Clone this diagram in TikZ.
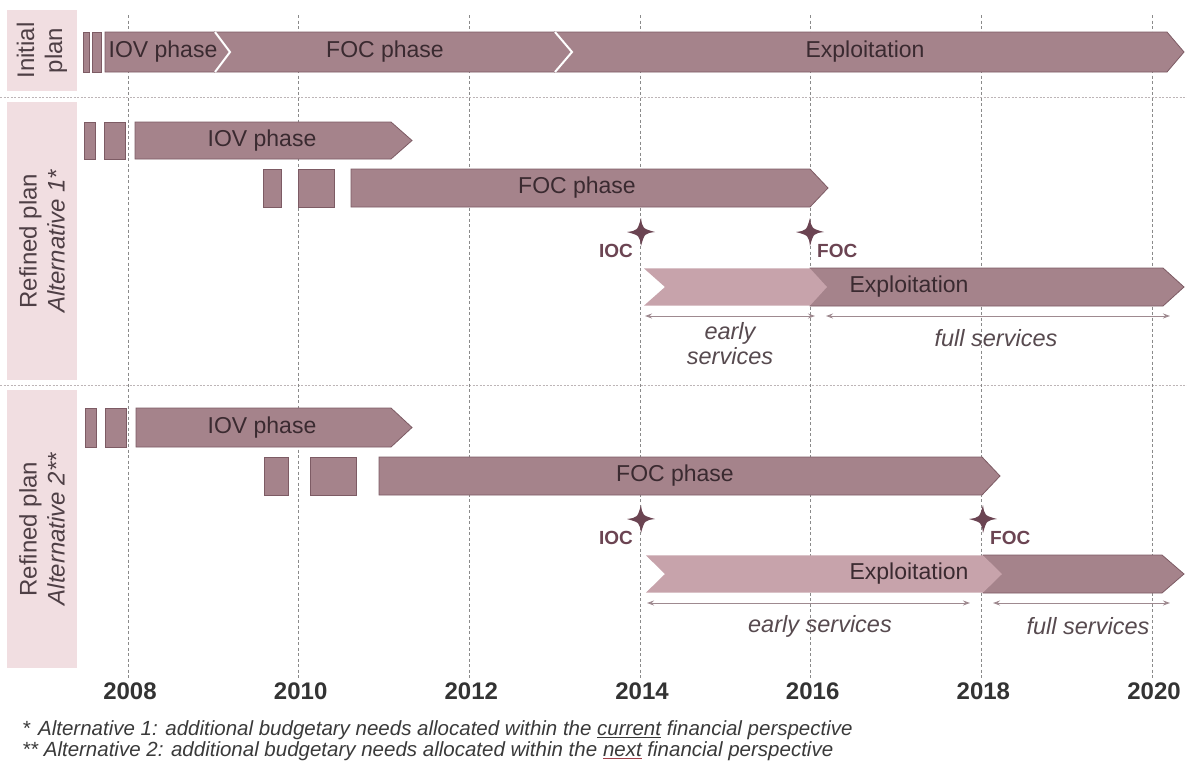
\documentclass[tikz,border=0pt]{standalone}
\usepackage{fontspec}
\setmainfont{Liberation Sans}
\usetikzlibrary{arrows.meta}
\definecolor{barfill}{HTML}{A5838B}
\definecolor{barline}{HTML}{7D5B64}
\definecolor{lightbar}{HTML}{C7A3AB}
\definecolor{labelbox}{HTML}{F1DEE1}
\definecolor{starcol}{HTML}{6B4452}
\definecolor{bartext}{HTML}{3A2A30}
\definecolor{arrcol}{HTML}{9F8A90}
\definecolor{gridcol}{HTML}{8A8A8A}
\definecolor{sepcol}{HTML}{BDB5B7}
\definecolor{foottext}{HTML}{3A3A3A}
\definecolor{nextcol}{HTML}{A0404A}
\newcommand\chevbar[7]{\path[#1] (#2,#4) -- ({#3-#6},#4) -- (#3,{(#4+#5)/2}) -- ({#3-#6},#5) -- (#2,#5) -- ({#2+#7},{(#4+#5)/2}) -- cycle;}
\newcommand\mystar[1]{\fill[starcol] (#1) ++(0,-14) .. controls ++(1.5,10.5) .. ++(14,14) .. controls ++(-10.5,1.5) .. ++(-14,14) .. controls ++(-1.5,-10.5) .. ++(-14,-14) .. controls ++(10.5,-1.5) .. ++(14,-14) -- cycle;}
\begin{document}
\begin{tikzpicture}[x=1pt,y=-1pt,
  barstyle/.style={fill=barfill,draw=barline,line width=0.8pt},
  lightstyle/.style={fill=lightbar,draw=none},
  bartxt/.style={text=bartext,font=\fontsize{23}{27}\selectfont,inner sep=0pt},
  labeltxt/.style={text=bartext!90,font=\fontsize{24}{28}\selectfont,align=center,rotate=90,inner sep=0pt},
  yearlbl/.style={text=black!80,font=\bfseries\fontsize{24}{27}\selectfont,inner sep=0pt},
  servtxt/.style={text=bartext!85,font=\itshape\fontsize{23.5}{26}\selectfont,align=center,inner sep=0pt},
  msltxt/.style={text=starcol,font=\bfseries\fontsize{19}{22}\selectfont,inner sep=0pt},
  gridline/.style={draw=gridcol,line width=0.8pt,dash pattern=on 3pt off 2.5pt},
  sepline/.style={draw=sepcol,line width=0.8pt,dash pattern=on 2pt off 1.5pt},
  servarrow/.style={draw=arrcol,line width=1pt,{Stealth[length=7pt,width=5pt]}-{Stealth[length=7pt,width=5pt]}},
  foot/.style={text=foottext,font=\itshape\fontsize{20.5}{23}\selectfont,inner sep=0pt,anchor=west}]
\useasboundingbox (0,0) rectangle (1187,769);
\fill[white] (0,0) rectangle (1187,769);
% label boxes
\fill[labelbox] (7,10) rectangle (77,91);
\fill[labelbox] (7,102) rectangle (77,380);
\fill[labelbox] (7,390) rectangle (77,668);
% separators
\draw[sepline] (0,97) -- (1187,97);
\draw[sepline] (0,385) -- (1187,385);
% grid
\foreach \k in {0,...,6} {\draw[gridline] ({128+\k*170.67},15) -- ({128+\k*170.67},678);}
% ---- Initial plan row
\path[barstyle] (83,32) rectangle (89,72);
\path[barstyle] (92.5,32) rectangle (101.5,72);
\chevbar{barstyle}{105}{230}{32}{72}{15}{0}
\chevbar{barstyle}{215}{572}{32}{72}{17}{15}
\chevbar{barstyle}{555}{1184}{32}{72}{17}{17}
\draw[white,line width=2pt] (215,32) -- (230,52) -- (215,72);
\draw[white,line width=2pt] (555,32) -- (572,52) -- (555,72);
\node[bartxt] (i-iov) at (163,52) {IOV phase};
\node[bartxt] (i-foc) at (385,52) {FOC phase};
\node[bartxt] (i-exp) at (865,52) {Exploitation};
% ---- Alternative 1
\path[barstyle] (84,122) rectangle (95,159);
\path[barstyle] (104,122) rectangle (125.5,159);
\chevbar{barstyle}{135}{412}{122}{159}{21}{0}
\path[barstyle] (263,169) rectangle (281,207);
\path[barstyle] (298,169) rectangle (334,207);
\chevbar{barstyle}{351}{828}{169}{207}{18}{0}
\node[bartxt] (a1-iov) at (262,141) {IOV phase};
\node[bartxt] (a1-foc) at (577,188) {FOC phase};
\chevbar{barstyle}{810}{1184}{268}{306}{21}{0}
\chevbar{lightstyle}{644}{827}{268.4}{305.6}{17}{21}
\node[bartxt] (a1-exp) at (909,287) {Exploitation};
\coordinate (a1ioc) at (641,232);
\coordinate (a1foc) at (810,232);
\mystar{a1ioc}
\mystar{a1foc}
\node[msltxt,anchor=east] (a1-iocl) at (633,251) {IOC};
\node[msltxt,anchor=west] (a1-focl) at (817,251) {FOC};
\coordinate (a1es) at (645,316);
\coordinate (a1ee) at (815,316);
\coordinate (a1fs) at (826,316);
\coordinate (a1fe) at (1170,316);
\draw[servarrow] (a1es) -- (a1ee);
\draw[servarrow] (a1fs) -- (a1fe);
\node[servtxt] (a1-early) at (730,344) {early\\[-1pt]services};
\node[servtxt] (a1-full) at (996,338) {full services};
\node[labeltxt] (lab-init) at (42,50.5) {Initial\\plan};
\node[labeltxt] (lab-a1) at (42,241) {Refined plan\\\itshape Alternative 1*};
% ---- Alternative 2
\path[barstyle] (85,408) rectangle (96,447);
\path[barstyle] (105,408) rectangle (126,447);
\chevbar{barstyle}{136}{412}{408}{447}{21}{0}
\path[barstyle] (264,457) rectangle (288,495);
\path[barstyle] (310,457) rectangle (356,495);
\chevbar{barstyle}{379}{1000}{457}{495}{18}{0}
\node[bartxt] (a2-iov) at (262,428) {IOV phase};
\node[bartxt] (a2-foc) at (675,476) {FOC phase};
\chevbar{barstyle}{983}{1184}{555}{593}{22}{0}
\chevbar{lightstyle}{646}{1002}{555.4}{592.6}{19}{19}
\node[bartxt] (a2-exp) at (909,574) {Exploitation};
\coordinate (a2ioc) at (641,519);
\coordinate (a2foc) at (983,519);
\mystar{a2ioc}
\mystar{a2foc}
\node[msltxt,anchor=east] (a2-iocl) at (633,538) {IOC};
\node[msltxt,anchor=west] (a2-focl) at (990,538) {FOC};
\coordinate (a2es) at (647,603);
\coordinate (a2ee) at (970,603);
\coordinate (a2fs) at (993,603);
\coordinate (a2fe) at (1170,603);
\draw[servarrow] (a2es) -- (a2ee);
\draw[servarrow] (a2fs) -- (a2fe);
\node[servtxt] (a2-early) at (820,626) {early services};
\node[servtxt] (a2-full) at (1088,626) {full services};
\node[labeltxt] (lab-a2) at (42,529) {Refined plan\\\itshape Alternative 2**};
% ---- years
\foreach \yr [count=\k from 0] in {2008,2010,2012,2014,2016,2018,2020}
  {\node[yearlbl] (y\yr) at ({130+\k*170.67},691) {\yr};}
% ---- footnotes
\node[foot] (fn1) at (22,730) {*\hspace{8pt}Alternative 1: additional budgetary needs allocated within the \underline{current} financial perspective};
\node[foot] (fn2) at (22,751) {** Alternative 2: additional budgetary needs allocated within the {\color{nextcol}\underline{\color{foottext}next}} financial perspective};
\end{tikzpicture}
\end{document}
